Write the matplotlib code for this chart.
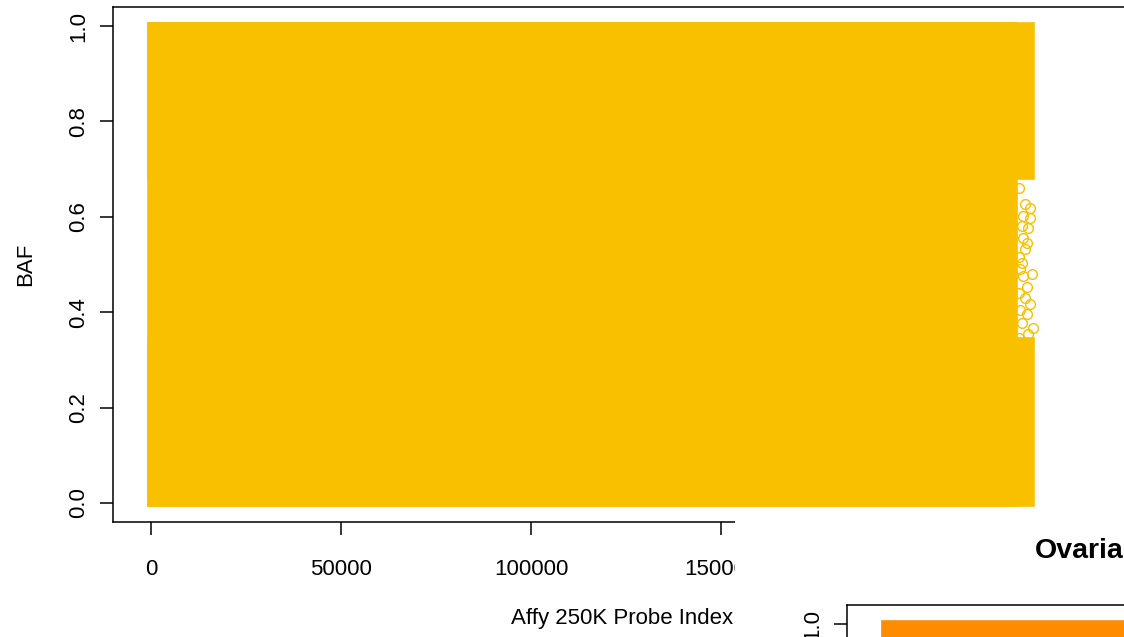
import matplotlib
matplotlib.use("Agg")
import matplotlib.pyplot as plt
from matplotlib.patches import Rectangle

plt.rcParams['font.family'] = ['Liberation Sans', 'DejaVu Sans']

# BAF cloud, summarised as blocks of probes (probe index range, BAF range)
block_x0 = [0, 0, 0]
block_x1 = [227100, 231500, 231500]
block_y0 = [0.0, 0.0, 0.685]
block_y1 = [1.0, 0.34, 1.0]

# sparse heterozygous probes at the right end of the array
edge_x = [229200, 231800, 230500, 229500, 230000, 231300, 230500, 229200, 232000, 230800,
          230000, 231300, 229500, 231300, 229200, 230800, 229500, 230500, 230000,
          228500, 228300, 228800, 228400, 228600, 228300]
edge_y = [0.503, 0.480, 0.452, 0.475, 0.429, 0.417, 0.396, 0.377, 0.366, 0.354,
          0.626, 0.618, 0.601, 0.597, 0.580, 0.576, 0.555, 0.545, 0.532,
          0.660, 0.515, 0.490, 0.440, 0.405, 0.345]

# second panel (only its top edge is visible)
panel2_x0 = [0]
panel2_x1 = [231500]
panel2_y0 = [0.0]
panel2_y1 = [1.0]

# ticks that are not hidden by the next panel
xticks = [0, 50000, 100000, 150000]
yticks = [0.0, 0.2, 0.4, 0.6, 0.8, 1.0]

yellow = '#F9C000'
orange = '#FF8C00'

fig = plt.figure(figsize=(11.24, 6.37), dpi=100)


def style_axes(ax):
    for s in ax.spines.values():
        s.set_linewidth(1.1)
    ax.set_xlim(-10000, 260000)
    ax.set_ylim(-0.04, 1.04)
    ax.tick_params(axis='both', length=9.4, width=1.1, labelsize=16)
    ax.tick_params(axis='x', pad=17)
    ax.tick_params(axis='y', pad=8)


def draw_blocks(ax, x0, x1, y0, y1, color):
    for a, b, c, d in zip(x0, x1, y0, y1):
        ax.add_patch(Rectangle((a, c), b - a, d - c, facecolor=color,
                               edgecolor=color, linewidth=5.5, joinstyle='miter'))


ax = fig.add_axes([113 / 1124, 115 / 637, 1026 / 1124, 515 / 637])
style_axes(ax)
draw_blocks(ax, block_x0, block_x1, block_y0, block_y1, yellow)
ax.plot(edge_x, edge_y, 'o', mfc='none', mec=yellow, ms=7, mew=1.0)
ax.set_xticks(xticks)
ax.set_xticklabels([str(t) for t in xticks])
ax.set_yticks(yticks)
ax.set_yticklabels(["%.1f" % t for t in yticks])
plt.setp(ax.get_yticklabels(), rotation=90, va='center')
ax.set_xlabel("Affy 250K Probe Index", fontsize=16)
ax.xaxis.set_label_coords((622 - 113) / 1026, (522 - 608) / 515)
ax.set_ylabel("BAF", fontsize=16, labelpad=23)

# the next panel of the page overlaps the bottom right corner
fig.add_artist(Rectangle((735 / 1124, 0), 1 - 735 / 1124, 122 / 637,
                         transform=fig.transFigure, facecolor='white',
                         edgecolor='none', zorder=1))

ax2 = fig.add_axes([847 / 1124, 32 / 637 - 515 / 637, 1026 / 1124, 515 / 637])
ax2.set_zorder(2)
style_axes(ax2)
draw_blocks(ax2, panel2_x0, panel2_x1, panel2_y0, panel2_y1, orange)
ax2.set_xticks([])
ax2.set_yticks([1.0])
ax2.set_yticklabels(["1.0"])
plt.setp(ax2.get_yticklabels(), rotation=90, va='center')

fig.text(1035 / 1124, 79 / 637, "Ovaria", fontsize=20.5, fontweight='bold',
         ha='left', va='baseline', zorder=3)

fig.savefig("out.png", dpi=100)
